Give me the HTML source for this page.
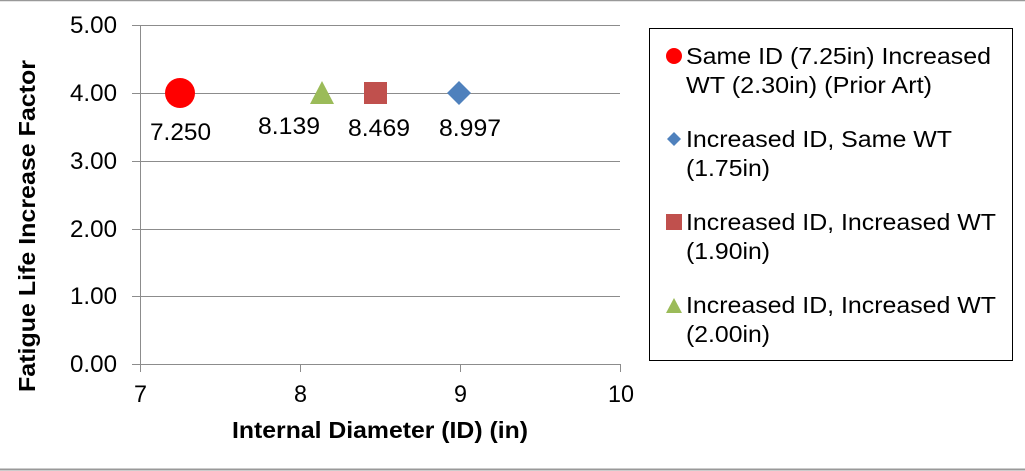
<!DOCTYPE html>
<html><head><style>body{margin:0;background:#fff}svg{display:block}</style></head><body>
<svg width="1025" height="471" xmlns="http://www.w3.org/2000/svg" font-family="Liberation Sans, Arial, sans-serif">
<rect x="0" y="0" width="1025" height="471" fill="#fff"/>
<line x1="0" y1="0.5" x2="1025" y2="0.5" stroke="#999" stroke-width="1.5"/>
<line x1="0" y1="469.5" x2="1025" y2="469.5" stroke="#999" stroke-width="2"/>
<g stroke="#8c8c8c" stroke-width="1">
<line x1="132" y1="25.5" x2="620" y2="25.5"/>
<line x1="132" y1="93.5" x2="620" y2="93.5"/>
<line x1="132" y1="161.5" x2="620" y2="161.5"/>
<line x1="132" y1="229.5" x2="620" y2="229.5"/>
<line x1="132" y1="296.5" x2="620" y2="296.5"/>
<line x1="132" y1="364.5" x2="620" y2="364.5"/>
<line x1="140.5" y1="25" x2="140.5" y2="372"/>
<line x1="300.5" y1="364" x2="300.5" y2="372"/>
<line x1="460.5" y1="364" x2="460.5" y2="372"/>
<line x1="620.5" y1="364" x2="620.5" y2="372"/>
</g>
<g font-size="24" fill="#000">
<text x="70" y="33" textLength="47" lengthAdjust="spacingAndGlyphs">5.00</text>
<text x="70" y="101" textLength="47" lengthAdjust="spacingAndGlyphs">4.00</text>
<text x="70" y="169" textLength="47" lengthAdjust="spacingAndGlyphs">3.00</text>
<text x="70" y="237" textLength="47" lengthAdjust="spacingAndGlyphs">2.00</text>
<text x="70" y="304" textLength="47" lengthAdjust="spacingAndGlyphs">1.00</text>
<text x="70" y="372" textLength="47" lengthAdjust="spacingAndGlyphs">0.00</text>
<text x="134" y="402" textLength="13" lengthAdjust="spacingAndGlyphs">7</text>
<text x="294" y="402" textLength="13" lengthAdjust="spacingAndGlyphs">8</text>
<text x="454" y="402" textLength="13" lengthAdjust="spacingAndGlyphs">9</text>
<text x="608" y="402" textLength="26" lengthAdjust="spacingAndGlyphs">10</text>
<text x="150" y="140" textLength="61" lengthAdjust="spacingAndGlyphs">7.250</text>
<text x="258" y="134" textLength="62" lengthAdjust="spacingAndGlyphs">8.139</text>
<text x="348" y="136" textLength="62" lengthAdjust="spacingAndGlyphs">8.469</text>
<text x="439" y="136" textLength="62" lengthAdjust="spacingAndGlyphs">8.997</text>
</g>
<text x="232" y="438" font-size="23" font-weight="bold" textLength="296" lengthAdjust="spacingAndGlyphs">Internal Diameter (ID) (in)</text>
<text transform="translate(35,392) rotate(-90)" font-size="23" font-weight="bold" textLength="332" lengthAdjust="spacingAndGlyphs">Fatigue Life Increase Factor</text>
<circle cx="180" cy="93" r="15" fill="#ff0000"/>
<polygon points="322,81 334,104 310,104" fill="#9bbb59"/>
<rect x="364" y="82" width="23" height="22" fill="#c0504d"/>
<polygon points="459,81 471,93 459,105 447,93" fill="#4f81bd"/>
<rect x="649.5" y="28.5" width="363" height="332" fill="#fff" stroke="#000" stroke-width="1"/>
<circle cx="674" cy="56" r="8" fill="#ff0000"/>
<polygon points="674,132 681,139 674,146 667,139" fill="#4f81bd"/>
<rect x="666" y="214" width="16" height="16" fill="#c0504d"/>
<polygon points="674,298 682,313 666,313" fill="#9bbb59"/>
<g font-size="23" fill="#000">
<text x="686" y="64" textLength="305" lengthAdjust="spacingAndGlyphs">Same ID (7.25in) Increased</text>
<text x="686" y="93" textLength="246" lengthAdjust="spacingAndGlyphs">WT (2.30in) (Prior Art)</text>
<text x="686" y="147" textLength="266" lengthAdjust="spacingAndGlyphs">Increased ID, Same WT</text>
<text x="686" y="176" textLength="84" lengthAdjust="spacingAndGlyphs">(1.75in)</text>
<text x="686" y="230" textLength="310" lengthAdjust="spacingAndGlyphs">Increased ID, Increased WT</text>
<text x="686" y="259" textLength="84" lengthAdjust="spacingAndGlyphs">(1.90in)</text>
<text x="686" y="313" textLength="310" lengthAdjust="spacingAndGlyphs">Increased ID, Increased WT</text>
<text x="686" y="342" textLength="84" lengthAdjust="spacingAndGlyphs">(2.00in)</text>
</g>
</svg>
</body></html>
